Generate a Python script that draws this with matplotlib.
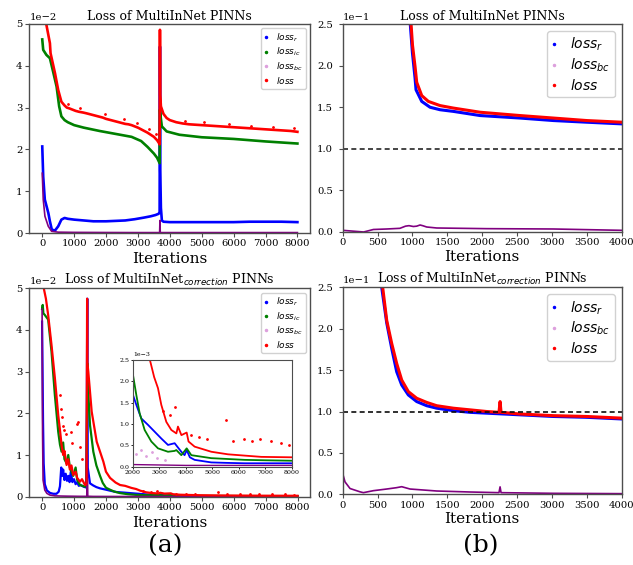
import matplotlib
matplotlib.use('Agg')
import matplotlib.pyplot as plt
from matplotlib.lines import Line2D
import numpy as np

# ---- (a) top: MultiInNet, values in units of 1e-2 ----
tl_r_it = [0, 30, 80, 190, 240, 300, 400, 500, 600, 700, 800, 1000, 1300, 1600, 1800, 2000, 2300, 2600,
           2900, 3200, 3400, 3550, 3650, 3680, 3690, 3700, 3720, 3750, 3800, 4000, 4500, 5000, 5500, 6000,
           6500, 7000, 7500, 8000]
tl_r = [2.07, 1.35, 0.8, 0.48, 0.28, 0.08, 0.06, 0.16, 0.32, 0.36, 0.34, 0.32, 0.3, 0.28, 0.28, 0.28, 0.29, 0.3,
        0.33, 0.37, 0.4, 0.43, 0.46, 0.5, 4.46, 1.5, 0.6, 0.3, 0.27, 0.26, 0.26, 0.26, 0.26, 0.26,
        0.27, 0.27, 0.27, 0.26]
tl_ic_it = [0, 30, 130, 240, 340, 450, 530, 600, 700, 800, 1000, 1300, 1800, 2300, 2800, 3100, 3300, 3500,
            3600, 3680, 3690, 3700, 3750, 3900, 4300, 5000, 6000, 7000, 8000]
tl_ic = [4.63, 4.38, 4.26, 4.18, 3.86, 3.5, 3.03, 2.79, 2.7, 2.65, 2.58, 2.52, 2.44, 2.37, 2.3, 2.2, 2.06, 1.9,
         1.8, 1.67, 2.95, 2.85, 2.55, 2.43, 2.35, 2.29, 2.25, 2.19, 2.14]
tl_bc_it = [0, 31, 84, 189, 294, 500, 1000, 2000, 3000, 3680, 3690, 3700, 4000, 5000, 6000, 7000, 8000]
tl_bc = [1.43, 0.8, 0.4, 0.16, 0.04, 0.02, 0.015, 0.012, 0.01, 0.01, 0.3, 0.01, 0.01, 0.01, 0.01, 0.01, 0.01]
tl_loss_it = [0, 60, 130, 240, 260, 400, 500, 600, 700, 770, 850, 950, 1050, 1150, 1290, 1400, 1500, 1600,
              1700, 1800, 1900, 2000, 2100, 2200, 2300, 2400, 2500, 2600, 2700, 2800, 2900, 3000, 3100, 3200,
              3300, 3400, 3500, 3600, 3660, 3680, 3690, 3700, 3720, 3800, 3900, 4000, 4200, 4400, 4600, 4800,
              5000, 5200, 5400, 5600, 5800, 6000, 6200, 6400, 6600, 6800, 7000, 7200, 7400, 7600, 7800, 8000]
tl_loss = [5.6, 5.3, 4.98, 4.54, 4.3, 3.82, 3.42, 3.14, 3.05, 3.0, 2.98, 2.95, 2.92, 2.9, 2.88, 2.86, 2.84, 2.82,
           2.8, 2.78, 2.76, 2.73, 2.71, 2.69, 2.67, 2.65, 2.63, 2.61, 2.6, 2.58, 2.55, 2.52, 2.48, 2.44,
           2.4, 2.35, 2.3, 2.22, 2.15, 2.12, 4.86, 3.3, 3.03, 2.85, 2.75, 2.7, 2.65, 2.62, 2.6, 2.59,
           2.58, 2.57, 2.56, 2.55, 2.54, 2.53, 2.52, 2.51, 2.5, 2.49, 2.48, 2.47, 2.46, 2.45, 2.44, 2.42]
tl_spike_it = [810, 1180, 1960, 2560, 2960, 3340, 3560, 4480, 5060, 5850, 6550, 7250, 7900]
tl_spike = [3.08, 2.98, 2.84, 2.72, 2.63, 2.48, 2.36, 2.69, 2.65, 2.61, 2.57, 2.53, 2.5]

# ---- (b) top: MultiInNet, values in units of 1e-1 ----
tr_r_it = [0, 500, 800, 900, 955, 1000, 1037, 1051, 1133, 1252, 1395, 1587, 1969, 2542, 3020, 3498, 4000]
tr_r = [30, 12, 5.3, 3.5, 2.65, 2.15, 1.85, 1.71, 1.57, 1.5, 1.47, 1.45, 1.40, 1.37, 1.34, 1.32, 1.30]
tr_bc_it = [0, 150, 300, 440, 630, 820, 900, 950, 1013, 1060, 1109, 1150, 1204, 1348, 2065, 3020, 4000]
tr_bc = [0.02, 0.01, 0.0, 0.03, 0.036, 0.044, 0.07, 0.076, 0.066, 0.07, 0.084, 0.075, 0.06, 0.048, 0.04, 0.036, 0.02]
tr_loss_it = [0, 500, 800, 900, 960, 1000, 1037, 1061, 1133, 1228, 1395, 1587, 1969, 2542, 3020, 3498, 4000]
tr_loss = [30, 12, 5.5, 3.6, 2.75, 2.25, 1.99, 1.8, 1.64, 1.57, 1.52, 1.49, 1.44, 1.40, 1.37, 1.34, 1.32]

# ---- (a) bottom: MultiInNet_correction, units of 1e-2 ----
bl_r_it = [0, 15, 30, 50, 85, 150, 250, 350, 450, 520, 560, 600, 630, 660, 700, 740, 780, 820, 860, 900, 950,
           1000, 1050, 1100, 1150, 1200, 1300, 1380, 1400, 1415, 1430, 1500, 1600, 1700, 1814, 2000, 2126,
           2315, 2567, 2819, 3071, 3323, 3575, 3700, 3827, 3950, 4030, 4150, 4331, 4960, 5500, 6220, 7000, 8000]
bl_r = [4.2, 3.0, 1.8, 0.8, 0.3, 0.15, 0.09, 0.07, 0.07, 0.12, 0.25, 0.7, 0.5, 0.65, 0.4, 0.55, 0.38, 0.5, 0.35, 0.6, 0.35,
        0.42, 0.3, 0.35, 0.26, 0.28, 0.24, 0.22, 2.0, 4.75, 0.7, 0.32, 0.27, 0.23, 0.2, 0.168, 0.145,
        0.113, 0.098, 0.082, 0.066, 0.051, 0.055, 0.045, 0.035, 0.027, 0.039, 0.022, 0.016, 0.01, 0.009, 0.008, 0.008, 0.008]
bl_ic_it = [0, 20, 40, 85, 190, 295, 400, 505, 560, 610, 660, 700, 767, 820, 870, 975, 1050, 1100, 1186, 1343,
            1390, 1400, 1415, 1430, 1447, 1500, 1604, 1700, 1814, 1900, 2000, 2126, 2252, 2441, 2693, 2945,
            3323, 3575, 3638, 3827, 4030, 4205, 4960, 6220, 7000, 8000]
bl_ic = [4.5, 4.6, 4.4, 4.36, 4.25, 3.48, 2.44, 1.56, 1.25, 1.08, 1.3, 0.9, 0.8, 1.0, 0.7, 0.5, 0.7, 0.4, 0.28, 0.24,
         0.26, 1.2, 3.2, 2.7, 2.5, 1.72, 1.08, 0.75, 0.5, 0.33, 0.215, 0.168, 0.125, 0.086, 0.059, 0.043,
         0.035, 0.037, 0.039, 0.027, 0.043, 0.027, 0.02, 0.016, 0.015, 0.014]
bl_bc_it = [0, 15, 31, 84, 150, 241, 400, 600, 800, 1000, 1200, 1400, 1415, 1430, 1600, 2000, 3000, 4000,
            5000, 6000, 7000, 8000]
bl_bc = [4.5, 1.5, 0.4, 0.16, 0.08, 0.04, 0.02, 0.015, 0.012, 0.01, 0.008, 0.008, 1.0, 0.01, 0.006, 0.005,
         0.004, 0.003, 0.003, 0.003, 0.003, 0.003]
bl_loss_it = [0, 53, 120, 190, 295, 400, 505, 560, 610, 660, 700, 767, 820, 870, 920, 975, 1050, 1100, 1186,
              1250, 1343, 1390, 1400, 1410, 1420, 1447, 1553, 1710, 1919, 2000, 2129, 2300, 2443, 2600, 2700,
              2800, 2945, 3070, 3260, 3450, 3640, 3700, 3830, 4030, 4100, 4330, 4960, 5590, 6220, 6850, 8000]
bl_loss = [5.2, 5.0, 4.75, 4.36, 3.64, 2.85, 1.96, 1.6, 1.24, 1.0, 1.1, 0.76, 0.9, 0.65, 0.75, 0.52, 0.6, 0.45,
           0.36, 0.42, 0.28, 0.3, 2.5, 4.75, 3.2, 3.0, 2.04, 1.32, 0.84, 0.6, 0.45, 0.34, 0.28, 0.26, 0.235,
           0.21, 0.184, 0.145, 0.105, 0.086, 0.078, 0.094, 0.074, 0.08, 0.059, 0.047, 0.035, 0.029, 0.026,
           0.023, 0.022]
bl_spike_it = [570, 590, 620, 650, 700, 760, 900, 950, 1080, 1120, 1180, 1250, 3150, 3400, 3600, 4200, 4500,
               4800, 5500, 5800, 6200, 6500, 6800, 7200, 7600, 7900]
bl_spike = [2.45, 2.1, 1.9, 1.7, 1.6, 1.5, 1.55, 1.3, 1.75, 1.8, 1.2, 0.9, 0.13, 0.12, 0.14, 0.075, 0.07,
            0.065, 0.11, 0.06, 0.065, 0.06, 0.065, 0.06, 0.055, 0.05]
bl_bc_spike_it = [2100, 2300, 2500, 2700, 2900, 3200]
bl_bc_spike = [0.03, 0.04, 0.025, 0.035, 0.02, 0.015]

# ---- (b) bottom: MultiInNet_correction, units of 1e-1 ----
br_r_it = [0, 300, 500, 559, 631, 703, 774, 846, 941, 1061, 1204, 1348, 1587, 1826, 2065, 2542, 3020, 3498, 4000]
br_r = [12, 5, 2.9, 2.5, 2.07, 1.76, 1.48, 1.32, 1.2, 1.12, 1.07, 1.04, 1.01, 0.99, 0.98, 0.96, 0.94, 0.93, 0.91]
br_bc_it = [0, 33, 105, 249, 296, 440, 631, 770, 846, 965, 1348, 1826, 2240, 2256, 2270, 3020, 4000]
br_bc = [0.25, 0.15, 0.07, 0.03, 0.02, 0.044, 0.064, 0.08, 0.092, 0.064, 0.04, 0.028, 0.02, 0.09, 0.02, 0.012, 0.008]
br_loss_it = [0, 300, 500, 573, 631, 703, 774, 846, 941, 1061, 1204, 1348, 1587, 1826, 2065, 2240, 2256, 2270,
              2542, 3020, 3498, 4000]
br_loss = [12, 5, 3, 2.5, 2.1, 1.82, 1.58, 1.38, 1.24, 1.16, 1.11, 1.07, 1.04, 1.02, 1.0, 0.99, 1.12, 0.99,
           0.97, 0.95, 0.94, 0.92]

C_R, C_IC, C_BC, C_L = 'blue', 'green', 'purple', 'red'

plt.rcParams['font.family'] = 'DejaVu Serif'
plt.rcParams['mathtext.fontset'] = 'dejavusans'

fig = plt.figure(figsize=(6.33, 5.65), dpi=100)


def style(ax, ypad, labelpad):
    ax.ticklabel_format(axis='y', style='sci', scilimits=(0, 0))
    ax.tick_params(labelsize=7.2, length=3, width=0.8, color='0.3')
    ax.tick_params(axis='y', pad=ypad)
    ax.tick_params(axis='x', pad=1.5)
    ax.yaxis.get_offset_text().set_fontsize(7.2)
    for s in ax.spines.values():
        s.set_color('0.3')
        s.set_linewidth(1.0)
    ax.set_xlabel('Iterations', fontsize=11, labelpad=labelpad)


def legend(ax, names, fs, spacing):
    cols = {'r': C_R, 'ic': C_IC, 'bc': 'plum', '': C_L}
    handles = [Line2D([], [], ls='none', marker='.', ms=3, color=cols[n]) for n in names]
    labels = ['$loss_{%s}$' % n if n else '$loss$' for n in names]
    ax.legend(handles, labels, loc='upper right', fontsize=fs, handlelength=0.4, handletextpad=0.9,
              borderpad=0.35, labelspacing=spacing, framealpha=0.9, edgecolor='0.8')


s2 = 1e-2
s1 = 1e-1

# top left
ax = fig.add_axes([0.0466, 0.5876, 0.4434, 0.370])
ax.plot(tl_r_it, np.array(tl_r) * s2, color=C_R, lw=1.9)
ax.plot(tl_ic_it, np.array(tl_ic) * s2, color=C_IC, lw=1.9)
ax.plot(tl_bc_it, np.array(tl_bc) * s2, color=C_BC, lw=1.2)
ax.plot(tl_loss_it, np.array(tl_loss) * s2, color=C_L, lw=1.9)
ax.plot(tl_spike_it, np.array(tl_spike) * s2, ls='none', marker='.', ms=2, color=C_L)
ax.set_xlim(-400, 8400)
ax.set_ylim(0, 0.05)
ax.set_title('Loss of MultiInNet PINNs', fontsize=9, pad=3)
style(ax, 2, 3)
legend(ax, ['r', 'ic', 'bc', ''], 6.5, 0.2)

# top right
ax = fig.add_axes([0.5414, 0.5894, 0.4408, 0.368])
ax.plot(tr_r_it, np.array(tr_r) * s1, color=C_R, lw=2.2)
ax.plot(tr_bc_it, np.array(tr_bc) * s1, color=C_BC, lw=1.2)
ax.plot(tr_loss_it, np.array(tr_loss) * s1, color=C_L, lw=2.2)
ax.axhline(0.1, color='0.15', ls=(0, (3, 2)), lw=1.2)
ax.set_xlim(0, 4000)
ax.set_ylim(0, 0.25)
ax.set_title('Loss of MultiInNet PINNs', fontsize=9, pad=3)
style(ax, 4, 2)
legend(ax, ['r', 'bc', ''], 10, 0.25)

# bottom left
ax = fig.add_axes([0.0463, 0.1209, 0.444, 0.3689])
ax.plot(bl_r_it, np.array(bl_r) * s2, color=C_R, lw=1.6)
ax.plot(bl_ic_it, np.array(bl_ic) * s2, color=C_IC, lw=1.6)
ax.plot(bl_bc_it, np.array(bl_bc) * s2, color=C_BC, lw=1.2)
ax.plot(bl_loss_it, np.array(bl_loss) * s2, color=C_L, lw=1.6)
ax.plot(bl_spike_it, np.array(bl_spike) * s2, ls='none', marker='.', ms=2, color=C_L)
ax.set_xlim(-400, 8400)
ax.set_ylim(0, 0.05)
ax.set_title('Loss of MultiInNet$_{correction}$ PINNs', fontsize=9, pad=3)
style(ax, 2, 3)
legend(ax, ['r', 'ic', 'bc', ''], 6.5, 0.2)

# inset
ins = fig.add_axes([0.2101, 0.174, 0.2507, 0.1888])
ins.plot(bl_r_it, np.array(bl_r) * s2, color=C_R, lw=1.3)
ins.plot(bl_ic_it, np.array(bl_ic) * s2, color=C_IC, lw=1.3)
ins.plot(bl_bc_it, np.array(bl_bc) * s2, color=C_BC, lw=1.0)
ins.plot(bl_bc_spike_it, np.array(bl_bc_spike) * s2, ls='none', marker='.', ms=2, color='plum')
ins.plot(bl_loss_it, np.array(bl_loss) * s2, color=C_L, lw=1.3)
ins.plot(bl_spike_it, np.array(bl_spike) * s2, ls='none', marker='.', ms=2, color=C_L)
ins.set_xlim(2000, 8000)
ins.set_ylim(0, 0.0025)
ins.ticklabel_format(axis='y', style='sci', scilimits=(0, 0))
ins.tick_params(labelsize=4.5, length=1.5, width=0.6, pad=1)
ins.yaxis.get_offset_text().set_fontsize(4.5)
for s in ins.spines.values():
    s.set_color('0.3')
    s.set_linewidth(0.8)

# bottom right
ax = fig.add_axes([0.5414, 0.1251, 0.4408, 0.3664])
ax.plot(br_r_it, np.array(br_r) * s1, color=C_R, lw=2.2)
ax.plot(br_bc_it, np.array(br_bc) * s1, color=C_BC, lw=1.2)
ax.plot(br_loss_it, np.array(br_loss) * s1, color=C_L, lw=2.2)
ax.axhline(0.1, color='0.05', ls=(0, (3, 2)), lw=1.2)
ax.set_xlim(0, 4000)
ax.set_ylim(0, 0.25)
ax.set_title('Loss of MultiInNet$_{correction}$ PINNs', fontsize=9, pad=3)
style(ax, 4, 2)
legend(ax, ['r', 'bc', ''], 10, 0.25)

fig.text(0.2607, 0.035, '(a)', fontsize=18, ha='center', va='center')
fig.text(0.760, 0.035, '(b)', fontsize=18, ha='center', va='center')

fig.savefig('out.png', dpi=100)
